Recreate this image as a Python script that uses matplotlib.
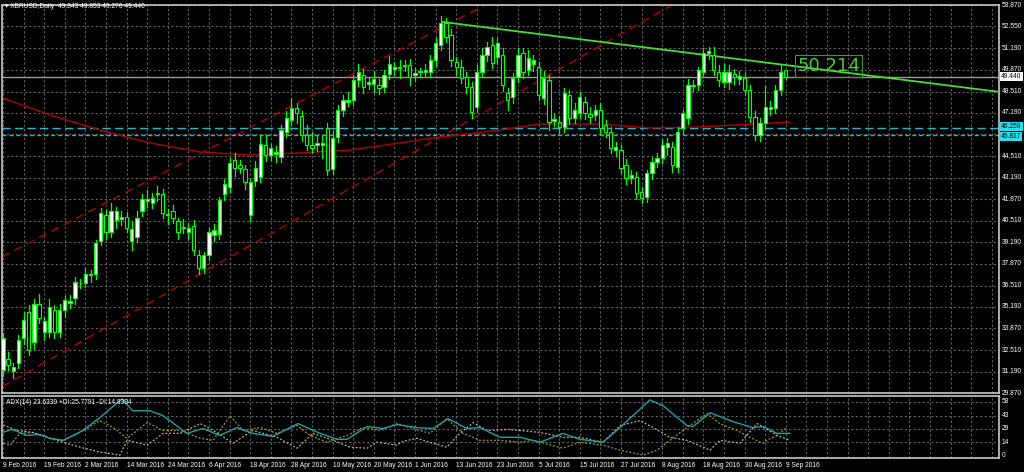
import matplotlib
matplotlib.use("Agg")
import matplotlib.pyplot as plt
from matplotlib.patches import Rectangle
from matplotlib.transforms import blended_transform_factory as btf

plt.rcParams['font.family'] = ['Liberation Sans', 'DejaVu Sans']

opens = [31.3,32.0,31.2,31.7,33.3,34.9,33.0,35.4,33.65,33.65,35.0,33.65,35.0,35.45,35.75,36.65,36.7,37.15,37.2,39.3,
 40.9,39.8,40.6,40.65,40.75,39.3,39.5,41.1,41.75,41.6,42.15,42.2,40.85,41.1,40.5,40.05,39.8,40.2,38.4,37.6,
 38.4,39.65,39.7,42.2,42.6,44.3,44.0,43.7,40.9,43.0,43.2,45.2,44.6,44.65,44.47,46.0,46.76,47.5,47.0,45.83,
 45.2,45.22,45.2,46.26,43.73,45.7,47.38,47.9,48.0,49.23,49.54,49.0,48.98,48.92,48.8,49.6,49.93,49.95,50.1,50.16,
 49.55,49.7,49.75,49.73,50.47,51.4,52.76,52.0,50.35,50.04,49.42,48.8,47.56,49.73,50.78,51.4,50.65,50.78,48.43,48.18,
 49.42,50.9,49.85,50.2,50.04,48.12,49.23,46.7,46.63,46.33,48.3,46.88,47.19,47.87,47.15,47.07,47.38,46.45,46.0,44.9,
 44.9,43.97,43.17,43.23,42.3,41.99,43.48,44.16,44.4,45.1,45.1,43.85,46.26,46.9,48.85,48.92,49.73,50.9,50.78,49.73,
 49.1,49.1,49.6,49.3,49.36,48.6,46.94,45.83,46.57,47.45,47.5,48.6,49.843]
closes = [33.3,31.6,31.5,33.15,34.4,32.5,35.4,34.5,34.3,35.2,33.65,35.0,35.6,35.55,36.75,36.7,37.2,37.2,39.15,41.0,
 39.8,41.1,41.1,40.75,40.1,40.0,40.7,41.9,41.85,41.95,42.25,41.0,40.95,40.7,39.8,40.15,40.1,38.7,37.6,38.4,
 39.8,39.95,41.8,42.8,44.1,43.8,43.8,42.9,42.9,43.8,45.3,44.6,45.0,44.75,46.14,46.9,47.5,47.2,45.83,45.2,
 45.0,45.32,45.35,43.67,45.65,47.38,48.0,48.0,49.23,49.73,48.8,49.1,49.3,48.74,49.54,50.22,50.03,50.05,50.17,49.42,
 49.65,49.8,49.85,50.47,51.52,52.76,51.9,50.47,50.04,49.36,48.8,47.25,49.73,50.78,51.27,50.28,51.52,48.92,48.0,49.36,
 50.78,49.73,50.6,50.45,48.3,49.36,46.63,46.8,46.33,48.43,46.88,47.38,48.18,47.19,46.95,47.38,46.26,46.0,45.0,45.1,
 43.8,43.17,43.36,42.24,41.93,43.48,44.16,44.4,45.21,45.34,43.97,46.0,47.19,48.9,48.95,49.85,50.9,51.0,49.85,49.23,
 49.73,49.73,49.4,49.5,48.6,46.94,45.83,46.57,47.56,47.55,48.6,49.73,49.44]
wick_hi = [0.3,0.4,0.2,0.3,0.5,0.4,0.3,0.6,0.3,0.5,0.3,0.4,0.3,0.4,0.3,0.2,0.4,0.3,0.2,0.3,
 0.3,0.5,0.3,0.4,0.3,0.5,0.4,0.3,0.6,0.3,0.4,0.3,0.3,0.4,0.2,0.5,0.3,0.4,0.3,0.2,
 0.3,0.4,0.2,0.3,0.3,0.4,0.3,0.3,0.2,0.4,0.5,0.6,0.3,0.4,0.3,0.4,0.6,0.3,0.3,0.6,
 0.8,0.5,0.4,0.3,0.4,0.3,0.3,0.5,0.3,0.5,0.4,0.3,0.5,0.4,0.3,0.5,0.3,0.4,0.3,0.4,
 0.3,0.2,0.4,0.3,0.3,0.4,0.3,0.4,0.3,0.4,0.3,0.3,0.4,0.4,0.3,0.5,0.3,0.4,0.3,0.3,
 0.4,0.3,0.5,0.3,0.3,0.4,0.3,0.3,0.4,0.3,0.3,0.4,0.3,0.3,0.4,0.3,0.4,0.3,0.3,0.3,
 0.3,0.4,0.3,0.3,0.3,0.2,0.3,0.3,0.4,0.3,0.3,0.3,0.2,0.4,0.3,0.2,0.3,0.3,0.5,0.4,
 0.5,0.4,0.3,0.3,0.3,0.3,0.4,0.3,1.3,0.4,0.3,0.4,0.013]
wick_lo = [0.4,0.3,0.4,0.3,0.4,0.3,0.4,0.3,0.5,0.3,0.4,0.3,0.4,0.3,0.4,0.3,0.3,0.4,0.3,0.3,
 0.4,0.3,0.5,0.4,0.3,0.6,0.3,0.3,0.4,0.3,0.4,0.3,0.5,0.3,0.4,0.3,0.4,0.3,0.4,0.3,
 0.3,0.4,0.3,0.4,0.3,0.5,0.3,0.4,0.4,0.3,0.3,0.4,0.3,0.5,0.3,0.3,0.3,0.6,0.4,0.3,
 0.3,0.4,0.8,0.3,0.3,0.3,0.4,0.3,0.3,0.4,0.4,0.3,0.5,0.4,0.3,0.3,0.4,0.6,0.3,0.5,
 0.4,0.3,0.3,0.3,0.4,0.3,0.3,0.4,0.5,0.3,0.4,0.4,0.3,0.3,0.4,0.3,0.4,0.4,0.6,0.4,
 0.3,0.4,0.3,0.4,0.3,0.4,0.5,0.3,0.4,0.3,0.4,0.3,0.3,0.4,0.4,0.3,0.4,0.3,0.3,0.4,
 0.3,0.4,0.3,0.4,0.3,0.3,0.4,0.3,0.3,0.5,0.4,0.3,0.3,0.4,0.3,0.3,0.3,0.4,0.3,0.4,
 0.3,0.4,0.4,0.3,0.3,0.3,0.3,0.4,0.3,0.4,0.3,0.3,0.164]

price_ticks = [53.870,52.550,51.190,49.870,48.510,47.190,45.870,44.510,43.190,41.870,40.510,
               39.190,37.870,36.510,35.190,33.870,32.510,31.190,29.870]
date_labels = ["9 Feb 2016","19 Feb 2016","2 Mar 2016","14 Mar 2016","24 Mar 2016","6 Apr 2016",
               "18 Apr 2016","28 Apr 2016","10 May 2016","20 May 2016","1 Jun 2016","13 Jun 2016",
               "23 Jun 2016","5 Jul 2016","15 Jul 2016","27 Jul 2016","8 Aug 2016","18 Aug 2016",
               "30 Aug 2016","9 Sep 2016"]

ma_idx = [-0.6,9.1,18.8,28.5,38.3,48,57.7,67.4,77.1,83.5,88.7,96.5,104.3,115.9,125.6,135.3,152.8]
ma_val = [48.18,47.07,46.14,45.34,44.78,44.59,44.72,44.9,45.34,45.65,45.83,46.14,46.51,46.51,46.26,46.33,46.63]

chan_up = ([-0.6, 95.5], [38.22, 54.18])
chan_lo = ([-0.6, 128.2], [30.18, 53.56])
trend = ([85.4, 193.6], [52.82, 48.49])
hlines = [46.259, 45.817]
last_price = 49.440
fibo_label = "50.214"

adx_idx = [-0.6,1.7,4.7,7.2,9.1,11.7,15.5,18.8,23.1,25.2,28.5,31.1,35.7,38.8,42.1,45.4,48.5,52.4,57.3,61.6,
 64.9,66.8,70.7,73.8,76.5,80.4,83.5,86.4,90.1,92.6,96.5,100.4,104.3,108.7,112,116.5,119.8,125.6,128.2,132.8,
 134,137.3,141.7,145.6,147.6,150.3,152.8]
adx_val = [23.7,28,21.5,22.6,18.3,16.1,26.9,40.9,61.3,48.4,48.4,43,23.7,29,21.5,30,23.7,20.4,34.4,23.7,
 17.2,17.2,31.2,29,33.3,30,29,39.8,29,30,19.4,19.4,14,23.7,17.2,14,30,60.2,53.8,32.3,
 31.2,46.2,36.6,30,31.2,23.7,23.7]
pdi_idx = [-0.6,1.4,3.3,5.8,9.1,11.7,15,18.8,21.4,24.1,28,31.1,34.4,38.3,40.8,44.1,46.6,49.9,53.2,57.1,
 59.6,62.9,66.8,69.9,73.2,76.5,79.6,82.9,86.2,89.3,92.6,96.5,100.4,102.9,108.7,112,116.5,119.8,124.3,127,
 129.5,132.8,136.7,139.2,142.5,145,147.6,148.3,150.3,152.2]
pdi_val = [14,10.8,23.7,24.7,18.3,16.1,24.7,37.6,30.1,18.3,35.5,26.9,26.9,18.3,16.1,43,26.9,30.1,23.7,32.3,
 21.5,14,21.5,30.1,26.9,34.4,29,23.7,39.8,23.7,16.1,16.1,14,16.1,7.5,14,10.8,5.4,0,5.4,
 16.1,30.1,45.2,34.4,26.9,19.4,12.9,16.1,21.5,30.1]
mdi_idx = [-0.6,2.7,5.8,9.1,11.7,15,18.8,22.7,24.1,28,31.1,34.4,38.3,40.8,44.7,48.5,53.2,57.1,60.2,64.1,
 67.4,70.7,72.6,76.5,77.7,80.4,83.5,86.2,88.7,91.3,94,97.9,100.4,104.3,108.7,112,116.5,119.8,123.7,126.2,
 129.5,132.8,137.3,139.2,143.1,146.4,150.3,152.8]
mdi_val = [34.4,26.9,24.7,18.3,14,8.6,3.2,0,16.1,10.8,23.7,23.7,34.4,26.9,12.9,26.9,19.4,7.5,23.7,16.1,
 8.6,7.5,14,10.8,15,18.3,12.9,8.6,23.7,35.5,26.9,28,26.9,24.7,19.4,19.4,14,32.3,37.6,30.1,
 19.4,16.1,5.4,16.1,12.9,34.4,21.5,16.1]

FS = 4.8
W, H = 1024, 472
fig = plt.figure(figsize=(10.24, 4.72), dpi=100, facecolor="black")
ax = fig.add_axes([2/W, (H-393)/H, 997/W, 388/H], facecolor="black")
ax2 = fig.add_axes([2/W, (H-458)/H, 997/W, 62/H], facecolor="black")
XL = (-0.19, 193.4)
gridc = "#5f5f5f"
for a in (ax, ax2):
    a.set_xlim(*XL)
    for s in a.spines.values():
        s.set_color("#c8c8c8"); s.set_linewidth(1.2)
    a.tick_params(left=False, labelleft=False, bottom=False, labelbottom=False)
    for k in range(0, 200, 4):
        a.axvline(k, color=gridc, lw=0.8, ls=(0, (2, 2)), zorder=0)

ax.set_ylim(29.87, 53.87)
for t in price_ticks:
    ax.axhline(t, color=gridc, lw=0.8, ls=(0, (2, 2)), zorder=0)
tr = btf(ax.transAxes, ax.transData)
for t in price_ticks:
    if t == 45.870:
        continue
    ax.text(1.003, t, f"{t:.3f}", transform=tr, color="white", fontsize=FS, va="center", ha="left", clip_on=False)

ax.axhline(last_price, color="#9a9a9a", lw=1.0, zorder=1)
ax.axhline(hlines[0], color="#20b8c8", lw=1.0, ls=(0, (6, 3)), zorder=1)
ax.axhline(hlines[1], color="#20b8c8", lw=1.0, ls=(0, (3, 2)), zorder=1)

ax.plot(ma_idx, ma_val, color="#b00000", lw=1.0, zorder=2)
def ext(line):
    (x0, x1), (y0, y1) = line
    s = (y1 - y0) / (x1 - x0)
    xs = [XL[0], 193.4]
    return xs, [y0 + s * (x - x0) for x in xs]
for ln in (chan_up, chan_lo):
    xs, ys = ext(ln)
    ax.plot(xs, ys, color="#b00000", lw=1.0, ls=(0, (6, 4)), zorder=2)
ax.plot(trend[0], trend[1], color="#44dd33", lw=1.3, zorder=3)

green = "#00ff00"
for i, (o, c) in enumerate(zip(opens, closes)):
    hi = max(o, c) + wick_hi[i]
    lo = min(o, c) - wick_lo[i]
    ax.plot([i, i], [lo, hi], color=green, lw=0.9, zorder=4)
    bot, h = min(o, c), max(abs(c - o), 0.04)
    ax.add_patch(Rectangle((i - 0.32, bot), 0.64, h, facecolor="white" if c >= o else "black",
                           edgecolor=green, lw=0.8, zorder=5))

ax.text(154.2, 50.1, fibo_label, color="#44cc33", fontsize=13, va="center", ha="left", zorder=6,
        family="DejaVu Sans", bbox=dict(facecolor="none", edgecolor="#3a9a30", lw=0.8, pad=1.5))

def tag(y, txt, fc):
    ax.text(1.002, y, txt, transform=tr, color="black", fontsize=FS, va="center", ha="left",
            clip_on=False, bbox=dict(facecolor=fc, edgecolor="none", pad=0.8))
tag(last_price, f"{last_price:.3f}", "white")
tag(hlines[0] + 0.08, f"{hlines[0]:.3f}", "#22e0f0")
tag(hlines[1] - 0.08, f"{hlines[1]:.3f}", "#22e0f0")

fig.text(5/W, 1 - 7/H, "\u25be XBRUSD,Daily  49.843 49.853 49.276 49.440", color="white", fontsize=FS,
         va="center", ha="left")

ax2.set_ylim(-3.2, 64.5)
for t in (14, 29, 43, 58):
    ax2.axhline(t, color=gridc, lw=0.8, ls=(0, (2, 2)), zorder=0)
tr2 = btf(ax2.transAxes, ax2.transData)
for t in (58, 43, 29, 14, 0):
    ax2.text(1.003, t, str(t), transform=tr2, color="white", fontsize=FS, va="center", ha="left", clip_on=False)
ax2.plot(adx_idx, adx_val, color="#20a0a0", lw=1.0, zorder=3)
ax2.plot(pdi_idx, pdi_val, color="#9aa020", lw=0.9, ls=(0, (1.5, 1.5)), zorder=2)
ax2.plot(mdi_idx, mdi_val, color="#c8b090", lw=0.9, ls=(0, (1.5, 1.5)), zorder=2)
ax2.text(4/997, 0.9, "ADX(14) 23.6339 +DI:25.7791 -DI:14.8394", transform=ax2.transAxes, color="white",
         fontsize=FS, va="center", ha="left")
trx = btf(ax2.transData, ax2.transAxes)
for k, lab in enumerate(date_labels):
    ax2.text(8 * k, -0.06, lab, transform=trx, color="white", fontsize=FS, va="top", ha="left", clip_on=False)

fig.savefig("out.png", dpi=100, facecolor="black")
